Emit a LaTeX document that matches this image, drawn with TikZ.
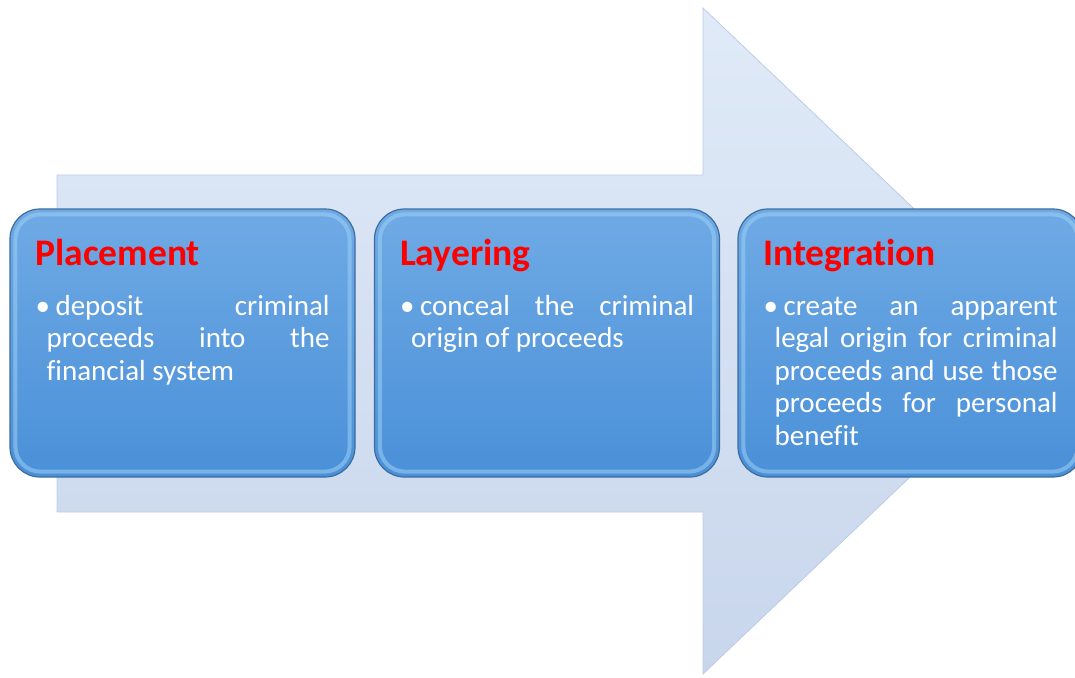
\documentclass[tikz,border=0pt]{standalone}
\usepackage{fontspec}
\setmainfont{Carlito}[Ligatures=NoCommon]
\usepackage{tikz}
\usetikzlibrary{positioning, calc}
\definecolor{arrowtop}{HTML}{E0EAF8}
\definecolor{arrowbot}{HTML}{C8D6EC}
\definecolor{arrowedge}{HTML}{BCCDE6}
\definecolor{boxtop}{HTML}{6FAAE5}
\definecolor{boxbot}{HTML}{4A90D8}
\definecolor{boxedge}{HTML}{3E6D9C}
\definecolor{bevelc}{HTML}{9CD0F4}
\definecolor{titlered}{HTML}{FF0000}
\hyphenpenalty=10000
\tolerance=9999
\newcommand{\bul}[1]{\hangindent=11pt\hangafter=1\makebox[20pt][l]{\textbullet}#1\par}
\tikzstyle{arrow}=[draw=arrowedge, line width=.8pt, top color=arrowtop, bottom color=arrowbot]
\tikzstyle{stage}=[draw=boxedge, line width=1.2pt, rounded corners=30pt, top color=boxtop, bottom color=boxbot, minimum width=345pt, minimum height=268pt, inner sep=0pt]
\tikzstyle{bevel}=[draw=bevelc, draw opacity=.55, line width=4pt, rounded corners=25pt]
\tikzstyle{title}=[text=titlered, font=\fontsize{37.5}{40}\selectfont\bfseries, inner sep=0pt, anchor=base west]
\tikzstyle{body}=[text=white, font=\fontsize{29}{32.5}\selectfont, text width=294pt, align=justify, inner sep=0pt, anchor=base west]

\begin{document}
\begin{tikzpicture}[x=1pt, y=-1pt]
\useasboundingbox (0,0) rectangle (1075,677);

% big arrow behind the stages
\draw[arrow] (57,175) -- (703,175) -- (703,8) -- (1053,341) -- (703,674) -- (703,512) -- (57,512) -- cycle;

\node[stage](place) at (182.5,343){};
\node[stage](layer) at (547,343){};
\node[stage](integ) at (910.5,343){};

\draw[bevel] ($(place.north west)+(6pt,-6pt)$) rectangle ($(place.south east)+(-6pt,6pt)$);
\draw[bevel] ($(layer.north west)+(6pt,-6pt)$) rectangle ($(layer.south east)+(-6pt,6pt)$);
\draw[bevel] ($(integ.north west)+(6pt,-6pt)$) rectangle ($(integ.south east)+(-6pt,6pt)$);

\node[below right=57pt and 26pt of place.north west, title](tplace){Placement};
\node[below right=57pt and 26pt of layer.north west, title](tlayer){Layering};
\node[below right=57pt and 26pt of integ.north west, title](tinteg){Integration};

\node[below=50pt of tplace.base west, body](bplace){\bul{deposit criminal proceeds into the financial system}};
\node[below=50pt of tlayer.base west, body](blayer){\bul{conceal the criminal origin of proceeds}};
\node[below=50pt of tinteg.base west, body](binteg){\bul{create an apparent legal origin for criminal proceeds and use those proceeds for personal benefit}};

\end{tikzpicture}
\end{document}
